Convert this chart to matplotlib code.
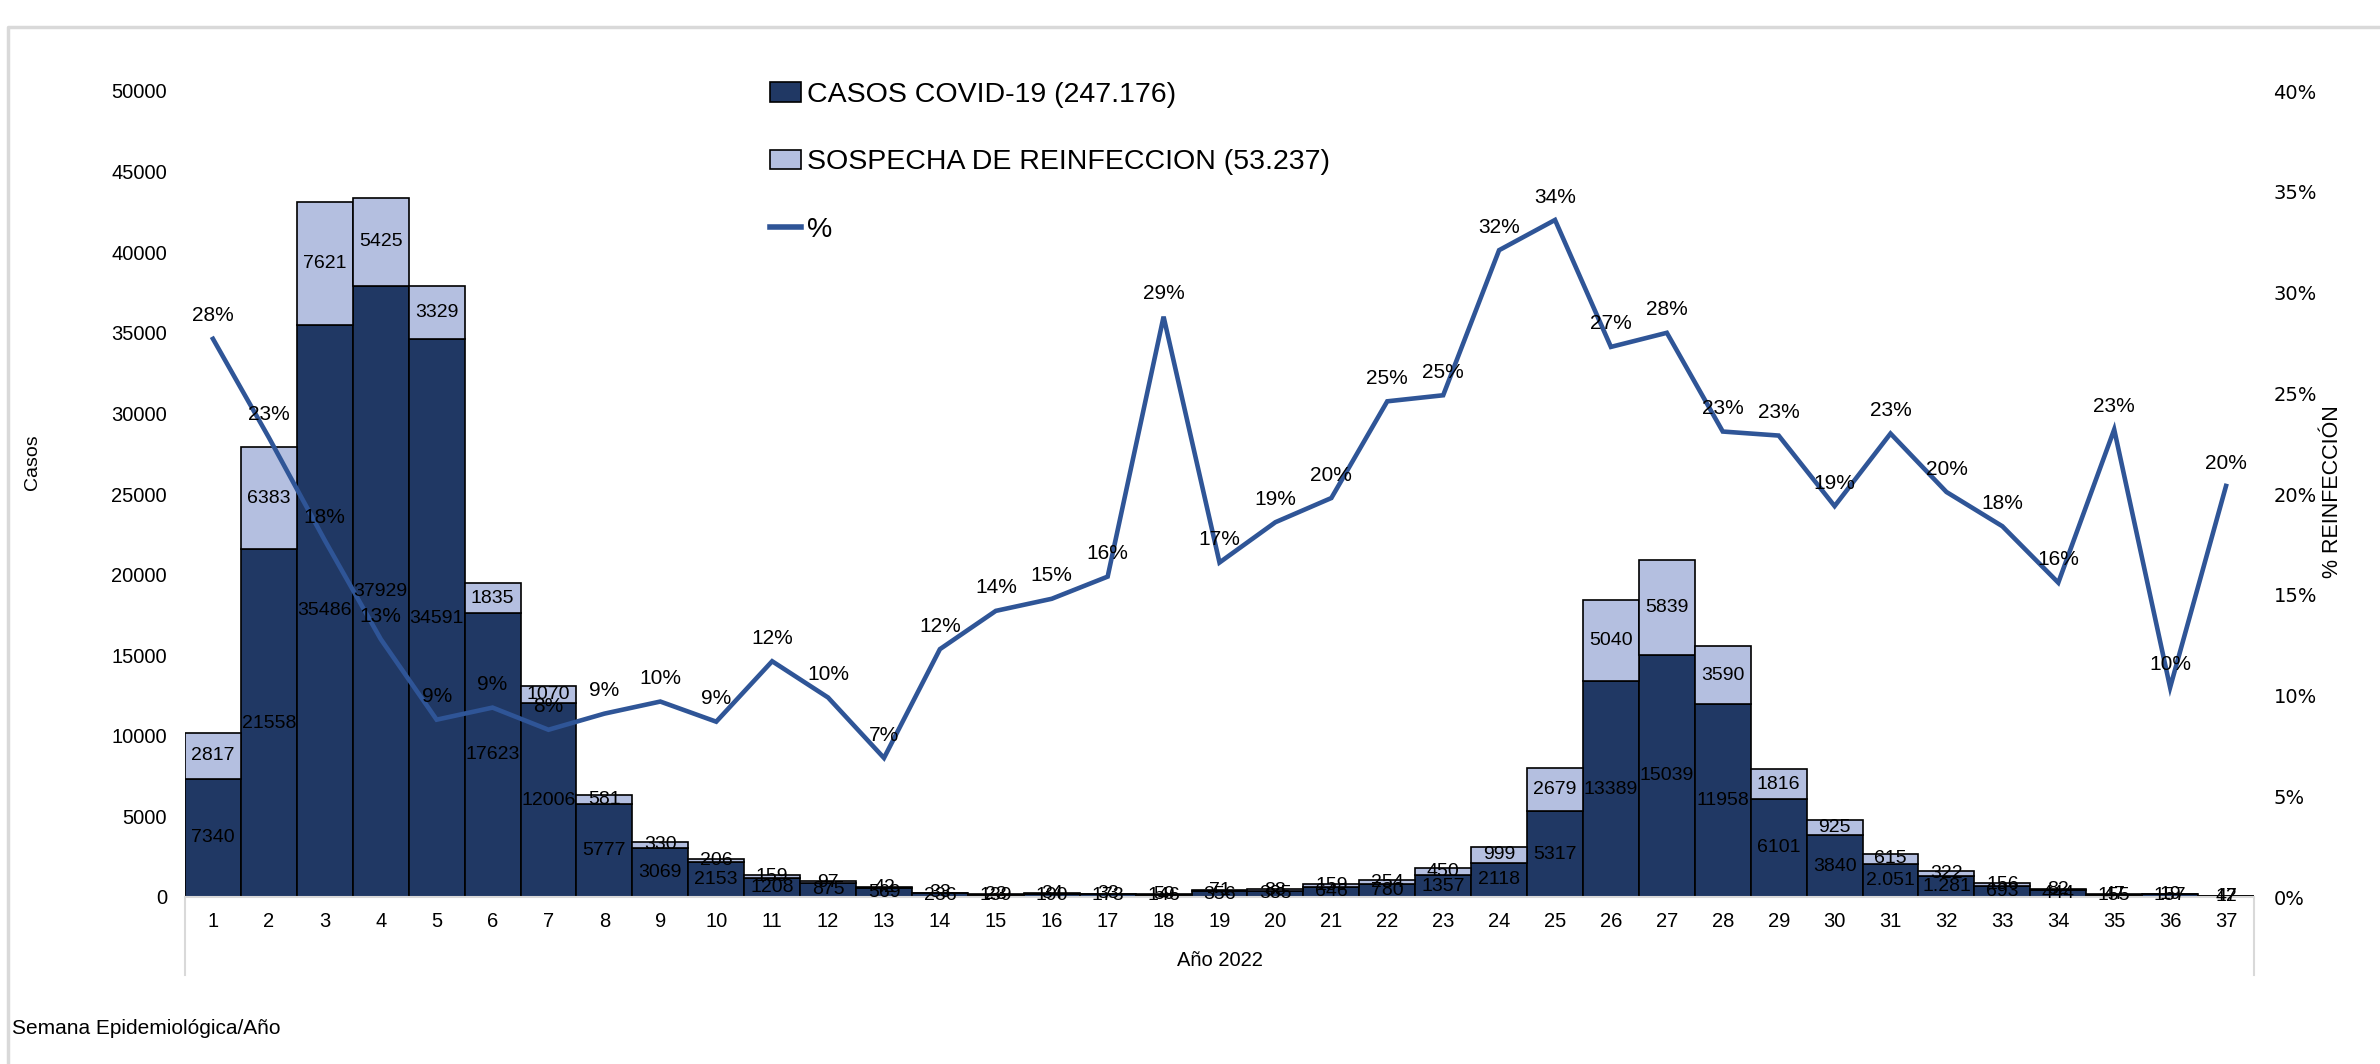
import matplotlib
matplotlib.use('Agg')
import matplotlib.pyplot as plt
import numpy as np
from matplotlib.patches import Patch
from matplotlib.lines import Line2D
from matplotlib.ticker import MultipleLocator, FuncFormatter
from matplotlib import font_manager

# ---------------- data ----------------
weeks = list(range(1, 38))
casos = [7340, 21558, 35486, 37929, 34591, 17623, 12006, 5777, 3069, 2153,
         1208, 875, 569, 236, 139, 190, 173, 146, 356, 385,
         646, 780, 1357, 2118, 5317, 13389, 15039, 11958, 6101, 3840,
         2051, 1281, 693, 444, 155, 157, 47]
reinf = [2817, 6383, 7621, 5425, 3329, 1835, 1070, 581, 330, 206,
         159, 97, 42, 33, 23, 34, 33, 59, 71, 88,
         159, 254, 450, 999, 2679, 5040, 5839, 3590, 1816, 925,
         615, 322, 156, 82, 47, 19, 12]
pct = [27.7, 22.8, 17.7, 12.8, 8.8, 9.4, 8.3, 9.1, 9.7, 8.7,
       11.7, 9.9, 6.9, 12.3, 14.2, 14.8, 15.9, 28.8, 16.6, 18.6,
       19.8, 24.6, 24.9, 32.1, 33.6, 27.3, 28.0, 23.1, 22.9, 19.4,
       23.0, 20.1, 18.4, 15.6, 23.2, 10.4, 20.4]
dotted_weeks = [31, 32]
legend_labels = ["CASOS COVID-19 (247.176)", "SOSPECHA DE REINFECCION (53.237)", "%"]
xlabel_group = "Año 2022"
footer = "Semana Epidemiológica/Año"
ylabel_left = "Casos"
ylabel_right = "% REINFECCIÓN"

# ---------------- style ----------------
DARK = '#203864'
LIGHT = '#B4BFE0'
LINE = '#2F5597'
GRID = '#D9D9D9'

plt.rcParams['font.family'] = ['Liberation Sans', 'DejaVu Sans']


def has_font(name):
    try:
        font_manager.findfont(font_manager.FontProperties(family=name), fallback_to_default=False)
        return True
    except Exception:
        return False


NARROW = ['Liberation Sans Narrow', 'Liberation Sans'] if has_font('Liberation Sans Narrow') else ['Liberation Sans']

W, H = 2380, 1064
fig = plt.figure(figsize=(W / 100, H / 100), dpi=100)
fig.patch.set_facecolor('white')

L, R, T, B = 185, 2254, 91, 897
ax = fig.add_axes([L / W, 1 - B / H, (R - L) / W, (B - T) / H])

x = np.array(weeks)
c = np.array(casos)
r = np.array(reinf)
ax.bar(x, c, width=1.0, color=DARK, edgecolor='black', linewidth=1.2, zorder=2)
ax.bar(x, r, bottom=c, width=1.0, color=LIGHT, edgecolor='black', linewidth=1.2, zorder=2)

ax.set_xlim(0.5, 37.5)
ax.set_ylim(0, 50000)
ax.yaxis.set_major_locator(MultipleLocator(5000))
ax.yaxis.set_major_formatter(FuncFormatter(lambda v, p: f"{int(v)}"))
ax.set_xticks(x)
ax.set_xticklabels([str(w) for w in weeks])
ax.tick_params(axis='both', length=0, labelsize=14.5)
ax.tick_params(axis='y', pad=13)
ax.tick_params(axis='x', pad=11)
for s in ['left', 'top', 'right']:
    ax.spines[s].set_visible(False)
ax.spines['bottom'].set_color(GRID)
ax.spines['bottom'].set_linewidth(1.5)

ax2 = ax.twinx()
ax2.set_ylim(0, 0.40)
ax2.yaxis.set_major_locator(MultipleLocator(0.05))
ax2.yaxis.set_major_formatter(FuncFormatter(lambda v, p: f"{v * 100:.0f}%"))
ax2.tick_params(axis='y', length=0, pad=14)
for lab in ax2.get_yticklabels():
    lab.set_family('DejaVu Sans')
    lab.set_fontsize(14)
for s in ['left', 'top', 'right', 'bottom']:
    ax2.spines[s].set_visible(False)

p = np.array(pct) / 100.0
ax2.plot(x, p, color=LINE, lw=3.3, zorder=3, solid_joinstyle='miter')

# bar labels (on top of everything)
for xi, ci, ri in zip(weeks, casos, reinf):
    lab_c = f"{ci:,}".replace(',', '.') if xi in dotted_weeks else str(ci)
    ax2.text(xi, ci / 2, lab_c, transform=ax.transData, ha='center', va='center',
             fontsize=14, color='black', zorder=5)
    ax2.text(xi, ci + ri / 2, str(ri), transform=ax.transData, ha='center', va='center',
             fontsize=14, color='black', zorder=5)

for xi, pi in zip(weeks, pct):
    ax2.annotate(f"{round(pi)}%", (xi, pi / 100), xytext=(0, 16.5), textcoords='offset points',
                 ha='center', va='center', fontsize=15, color='black', zorder=6)

# legend
handles = [Patch(facecolor=DARK, edgecolor='black', linewidth=1.2),
           Patch(facecolor=LIGHT, edgecolor='black', linewidth=1.2),
           Line2D([], [], color=LINE, lw=4)]
fig.legend(handles, legend_labels, loc='upper left', bbox_to_anchor=(770 / W, 1 - 82 / H),
           bbox_transform=fig.transFigure, frameon=False, fontsize=20.5,
           handlelength=1.1, handleheight=0.65, handletextpad=0.2,
           labelspacing=1.45, borderpad=0, borderaxespad=0)

# texts
fig.text(33 / W, 1 - 462 / H, ylabel_left, rotation=90, ha='center', va='center', fontsize=14)
fig.text(2333 / W, 1 - 492 / H, ylabel_right, rotation=90, ha='center', va='center', fontsize=15.5,
         family=NARROW)
fig.text((L + R) / 2 / W, 1 - 961 / H, xlabel_group, ha='center', va='center', fontsize=14.5)
fig.text(12 / W, 1 - 1029 / H, footer, ha='left', va='center', fontsize=15)

# category box lines
for xp in (L, R):
    fig.add_artist(Line2D([xp / W, xp / W], [1 - B / H, 1 - 975 / H], color=GRID, lw=1.5,
                          transform=fig.transFigure))

# chart border
fig.add_artist(Line2D([8 / W, 8 / W, 1.0], [0.0, 1 - 27 / H, 1 - 27 / H], color=GRID, lw=2.5,
                      transform=fig.transFigure))

fig.savefig('out.png', dpi=100)
